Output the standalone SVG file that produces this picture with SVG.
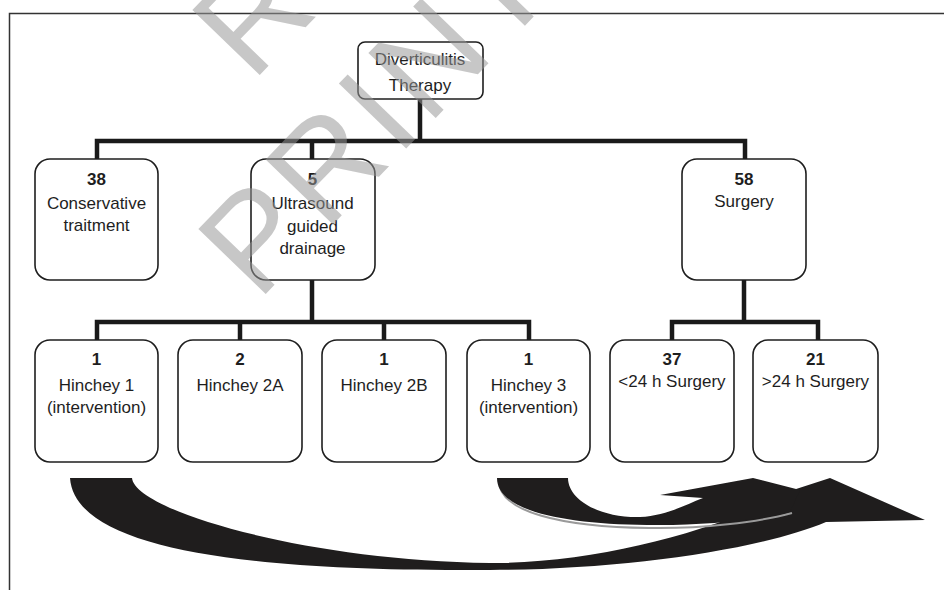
<svg xmlns="http://www.w3.org/2000/svg" width="944" height="590" viewBox="0 0 944 590">
<style>
.node rect{fill:#fff;stroke:#1e1e1e;stroke-width:1.6}
.t{font-family:"Liberation Sans",Arial,sans-serif;font-size:17px;fill:#1e1e1e;text-anchor:middle}
.n{font-weight:bold}
.conn{stroke:#1a1a1a;stroke-width:4.5;fill:none;stroke-linejoin:miter}
.arrow{fill:#1f1d1d}
.wm{font-family:"Liberation Sans",Arial,sans-serif;font-size:136px;fill:#979797;opacity:.53;letter-spacing:6px}
</style>
<rect width="944" height="590" fill="#fff"/>
<path d="M9.5,590 V13.5 H944" stroke="#333" stroke-width="1.5" fill="none"/>
<g id="connectors">
<path class="conn" d="M420,99 V141 M97,159 V141 H745 V159 M312,141 V159"/>
<path class="conn" d="M312,280 V322 M97,340 V322 H529 V340 M240,322 V340 M384,322 V340"/>
<path class="conn" d="M744,280 V322 M672,340 V322 H818 V340"/>
</g>
<g id="root" class="node"><rect x="358" y="42" width="125" height="57" rx="7"/><text class="t" x="420" y="65">Diverticulitis</text><text class="t" x="420" y="91">Therapy</text></g>
<g id="conservative" class="node"><rect x="35" y="159" width="123" height="121" rx="15"/><text class="t n" x="96.5" y="185">38</text><text class="t" x="96.5" y="209">Conservative</text><text class="t" x="96.5" y="231">traitment</text></g>
<g id="ultrasound" class="node"><rect x="251" y="159" width="124" height="121" rx="15"/><text class="t n" x="312.5" y="185">5</text><text class="t" x="312.5" y="209">Ultrasound</text><text class="t" x="312.5" y="232">guided</text><text class="t" x="312.5" y="254">drainage</text></g>
<g id="surgery" class="node"><rect x="682" y="159" width="124" height="121" rx="15"/><text class="t n" x="744" y="185">58</text><text class="t" x="744" y="207">Surgery</text></g>
<g id="hinchey1" class="node"><rect x="35" y="340" width="123" height="122" rx="15"/><text class="t n" x="96.5" y="365">1</text><text class="t" x="96.5" y="391">Hinchey 1</text><text class="t" x="96.5" y="413">(intervention)</text></g>
<g id="hinchey2a" class="node"><rect x="178" y="340" width="124" height="122" rx="15"/><text class="t n" x="240" y="365">2</text><text class="t" x="240" y="391">Hinchey 2A</text></g>
<g id="hinchey2b" class="node"><rect x="322" y="340" width="124" height="122" rx="15"/><text class="t n" x="384" y="365">1</text><text class="t" x="384" y="391">Hinchey 2B</text></g>
<g id="hinchey3" class="node"><rect x="467" y="340" width="123" height="122" rx="15"/><text class="t n" x="528.5" y="365">1</text><text class="t" x="528.5" y="391">Hinchey 3</text><text class="t" x="528.5" y="413">(intervention)</text></g>
<g id="lt24" class="node"><rect x="610" y="340" width="124" height="122" rx="15"/><text class="t n" x="672" y="365">37</text><text class="t" x="672" y="387">&lt;24 h Surgery</text></g>
<g id="gt24" class="node"><rect x="753" y="340" width="125" height="122" rx="15"/><text class="t n" x="815.5" y="365">21</text><text class="t" x="815.5" y="387">&gt;24 h Surgery</text></g>
<g id="arrows">
<path class="arrow" d="M70,478 L132,478 C135,510 300,560 490,563 C600,563 720,530 793,490 L830,478 L925,520 L826,522 C760,550 620,570 490,570 C250,572 75,550 70,478 Z"/>
<path d="M499,481 C499,512 562,527 649,528 C700,529 760,522 792,513" stroke="#9a9a9a" stroke-width="2" fill="none"/>
<path class="arrow" d="M497,478 L568,478 C568,500 600,518 640,517 C665,516 685,505 703,498 L660,495 L753,478 L800,490 L790,512 C760,520 700,526 647,525 C560,524 497,510 497,478 Z"/>
</g>
<g id="watermark">
<text class="wm" transform="translate(252,83) rotate(-46)">R</text>
<text class="wm" transform="translate(258,302) rotate(-46)">PRINT</text>
</g>
</svg>
